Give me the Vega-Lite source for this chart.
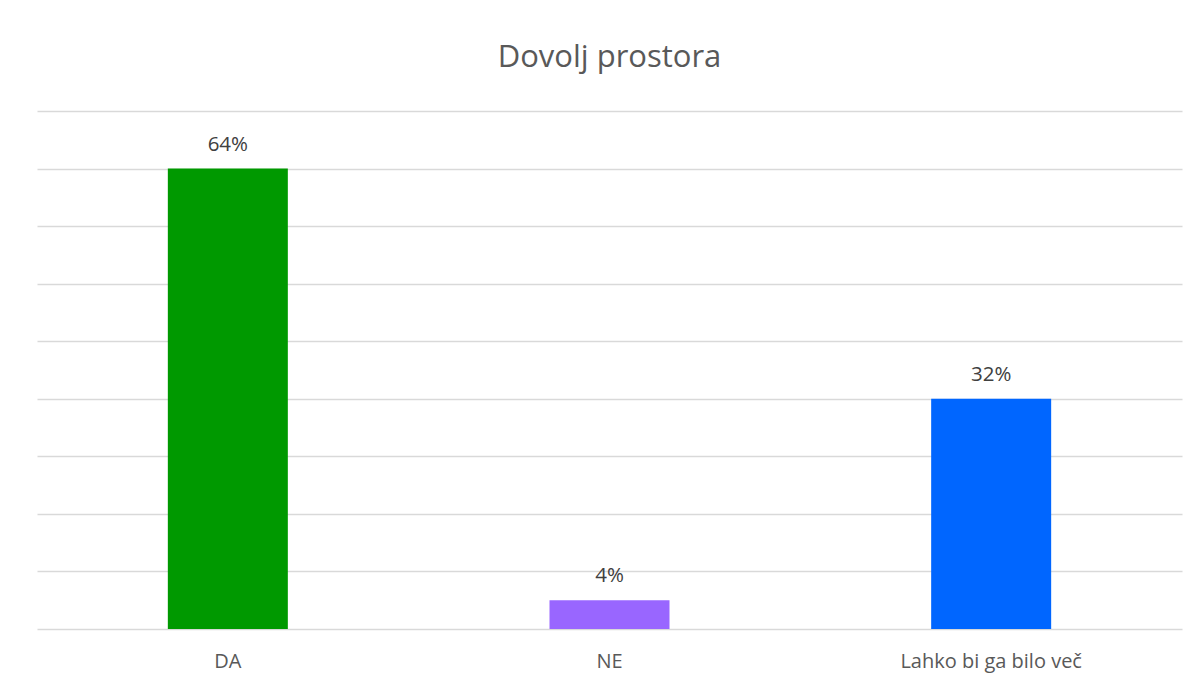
{
  "$schema": "https://vega.github.io/schema/vega-lite/v6.json",
  "autosize": {"type": "none"},
  "width": 1145,
  "height": 518,
  "padding": {"left": 37, "top": 111, "right": 18, "bottom": 55},
  "background": "white",
  "title": {
    "text": "Dovolj prostora",
    "font": "Open Sans",
    "fontSize": 31,
    "fontWeight": "normal",
    "color": "#595959",
    "anchor": "middle",
    "baseline": "alphabetic",
    "offset": 13
  },
  "data": {
    "values": [
      {"odgovor": "DA", "delez": 0.64, "barva": "#009900"},
      {"odgovor": "NE", "delez": 0.04, "barva": "#9966FF"},
      {"odgovor": "Lahko bi ga bilo več", "delez": 0.32, "barva": "#0066FF"}
    ]
  },
  "encoding": {
    "x": {
      "field": "odgovor",
      "type": "nominal",
      "sort": null,
      "scale": {"paddingInner": 0, "paddingOuter": 0},
      "axis": {
        "title": null,
        "labelAngle": 0,
        "labelFont": "Open Sans",
        "labelFontSize": 20,
        "labelColor": "#595959",
        "labelPadding": 22,
        "labelLimit": 0,
        "ticks": false,
        "domain": false,
        "grid": false
      }
    },
    "y": {
      "field": "delez",
      "type": "quantitative",
      "scale": {"domain": [0, 0.72], "nice": false},
      "axis": {
        "title": null,
        "labels": false,
        "ticks": false,
        "domain": false,
        "values": [0, 0.08, 0.16, 0.24, 0.32, 0.40, 0.48, 0.56, 0.64, 0.72],
        "gridColor": "#D9D9D9",
        "gridWidth": 1.3,
        "minExtent": 0,
        "maxExtent": 0
      }
    }
  },
  "layer": [
    {
      "mark": {"type": "bar", "size": 120},
      "encoding": {
        "color": {"field": "barva", "type": "nominal", "scale": null}
      }
    },
    {
      "mark": {
        "type": "text",
        "baseline": "alphabetic",
        "dy": -18,
        "font": "Open Sans",
        "fontSize": 20.5,
        "color": "#404040"
      },
      "encoding": {
        "text": {"field": "delez", "type": "quantitative", "format": ".0%"}
      }
    }
  ],
  "config": {"view": {"stroke": null}}
}
